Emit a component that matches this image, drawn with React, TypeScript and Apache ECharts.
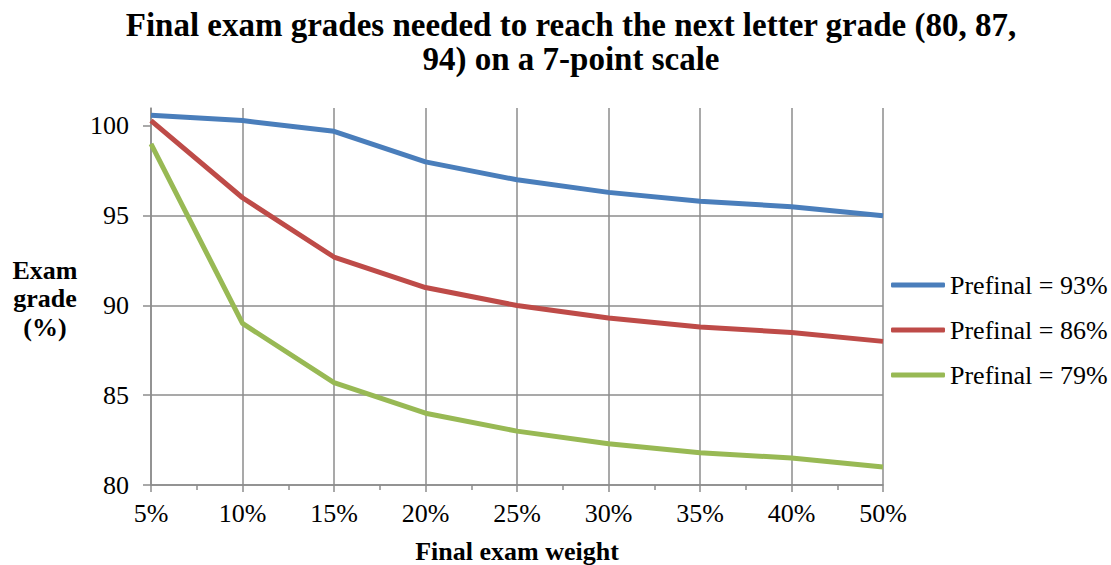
import React, { useEffect, useRef } from "react";
import * as echarts from "echarts";

const categories = ["5%", "10%", "15%", "20%", "25%", "30%", "35%", "40%", "50%"];
const seriesNames = ["Prefinal = 93%", "Prefinal = 86%", "Prefinal = 79%"];
const prefinal93 = [100.6, 100.3, 99.7, 98.0, 97.0, 96.3, 95.8, 95.5, 95.0];
const prefinal86 = [100.3, 96.0, 92.7, 91.0, 90.0, 89.3, 88.8, 88.5, 88.0];
const prefinal79 = [99.0, 89.0, 85.7, 84.0, 83.0, 82.3, 81.8, 81.5, 81.0];
const yTicks = [80, 85, 90, 95, 100];
const colors = ["#4a7ebb", "#be4b48", "#98b954"];

const FONT = "Liberation Serif";
const GRID_COLOR = "#8c8c8c";

export default function App() {
  const ref = useRef<HTMLDivElement>(null);
  useEffect(() => {
    if (!ref.current) return;
    const chart = echarts.init(ref.current, null, { renderer: "svg" });
    const all = [prefinal93, prefinal86, prefinal79];
    const option: any = {
      animation: false,
      backgroundColor: "#ffffff",
      textStyle: { fontFamily: FONT },
      title: {
        text: "Final exam grades needed to reach the next letter grade (80, 87,\n94) on a 7-point scale",
        left: 566,
        textAlign: "center",
        top: 3,
        textStyle: {
          fontFamily: FONT,
          fontSize: 33,
          fontWeight: "bold",
          color: "#000",
          lineHeight: 34,
        },
      },
      legend: {
        orient: "vertical",
        left: 886,
        top: 267,
        itemWidth: 54,
        itemHeight: 5,
        itemGap: 19,
        icon: "roundRect",
        textStyle: { fontFamily: FONT, fontSize: 26, color: "#000" },
        data: seriesNames,
      },
      grid: { left: 151, right: 228, top: 108, bottom: 80, outerBoundsMode: "none", containLabel: false },
      xAxis: {
        type: "value",
        min: 0,
        max: categories.length - 1,
        interval: 1,
        name: "Final exam weight",
        nameLocation: "middle",
        nameGap: 53,
        nameTextStyle: { fontFamily: FONT, fontSize: 26, fontWeight: "bold", color: "#000" },
        axisLine: { show: true, lineStyle: { color: GRID_COLOR, width: 1.5 } },
        axisTick: { show: true, length: 7, lineStyle: { color: GRID_COLOR, width: 1.5 } },
        minorTick: { show: true, splitNumber: 2, length: 5, lineStyle: { color: GRID_COLOR, width: 1.5 } },
        splitLine: { show: true, lineStyle: { color: GRID_COLOR, width: 1.5 } },
        axisLabel: {
          margin: 15,
          fontFamily: FONT,
          fontSize: 26,
          color: "#000",
          formatter: (v: number) => categories[Math.round(v)] ?? "",
        },
      },
      yAxis: {
        type: "value",
        min: 80,
        max: 101,
        interval: 5,
        axisLine: { show: true, lineStyle: { color: GRID_COLOR, width: 1.5 } },
        axisTick: {
          show: true,
          length: 8,
          customValues: yTicks,
          lineStyle: { color: GRID_COLOR, width: 1.5 },
        },
        splitLine: { show: true, showMaxLine: false, lineStyle: { color: GRID_COLOR, width: 1.5 } },
        axisLabel: {
          margin: 22,
          fontFamily: FONT,
          fontSize: 26,
          color: "#000",
          customValues: yTicks,
        },
      },
      graphic: [
        {
          type: "text",
          x: 45,
          y: 256,
          style: {
            text: "Exam\ngrade\n(%)",
            align: "center",
            verticalAlign: "top",
            fontFamily: FONT,
            fontSize: 26,
            fontWeight: "bold",
            fill: "#000",
            lineHeight: 28.5,
          },
        },
      ],
      series: all.map((vals, i) => ({
        name: seriesNames[i],
        type: "line",
        data: vals.map((v, j) => [j, v]),
        symbol: "none",
        clip: false,
        lineStyle: { color: colors[i], width: 5 },
        itemStyle: { color: colors[i] },
      })),
    };
    chart.setOption(option);
    return () => chart.dispose();
  }, []);
  return (
    <div
      ref={ref}
      style={{ position: "fixed", left: 0, top: 0, width: 1111, height: 565 }}
    />
  );
}
